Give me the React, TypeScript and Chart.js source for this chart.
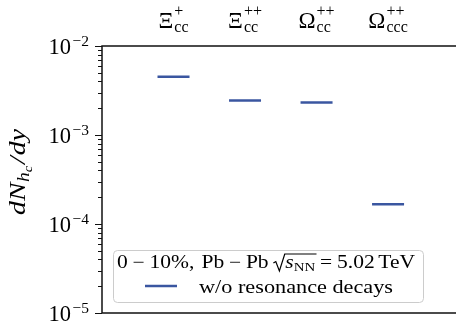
import { useEffect, useRef } from "react";
import { Chart, registerables } from "chart.js";

Chart.register(...registerables);

// ---- data ----
const categoryBase = ["Ξ", "Ξ", "Ω", "Ω"];
const categorySup = ["+", "++", "++", "++"];
const categorySub = ["cc", "cc", "cc", "ccc"];
const yieldValues = [4.5e-3, 2.44e-3, 2.32e-3, 1.67e-4];
const yTickExponents = [-5, -4, -3, -2];
const seriesLabel = "w/o resonance decays";

const BLUE = "#3a56a0";
const SERIF = '"Liberation Serif", "DejaVu Serif", serif';

type Run = { t?: string; size?: number; dy?: number; it?: boolean; gap?: number; sqrt?: Run[] };

function fnt(size: number, it?: boolean) {
  return `${it ? "italic " : ""}${size}px ${SERIF}`;
}
const RAD_W = 11;
function runsWidth(ctx: CanvasRenderingContext2D, runs: Run[]): number {
  let w = 0;
  for (const r of runs) {
    if (r.sqrt) {
      w += RAD_W + runsWidth(ctx, r.sqrt) + (r.gap || 0);
    } else {
      ctx.font = fnt(r.size || 20, r.it);
      w += ctx.measureText(r.t || "").width + (r.gap || 0);
    }
  }
  return w;
}
function drawRuns(ctx: CanvasRenderingContext2D, runs: Run[], x: number, y: number) {
  let cx = x;
  for (const r of runs) {
    if (r.sqrt) {
      const iw = runsWidth(ctx, r.sqrt);
      ctx.save();
      ctx.strokeStyle = "#000";
      ctx.lineWidth = 1;
      ctx.beginPath();
      ctx.moveTo(cx + 1, y - 5);
      ctx.lineTo(cx + 3, y - 6.5);
      ctx.lineTo(cx + 6, y + 3);
      ctx.lineTo(cx + 10.5, y - 14);
      ctx.lineTo(cx + RAD_W + iw + 1, y - 14);
      ctx.stroke();
      ctx.restore();
      drawRuns(ctx, r.sqrt, cx + RAD_W, y);
      cx += RAD_W + iw + (r.gap || 0);
    } else {
      ctx.font = fnt(r.size || 20, r.it);
      ctx.fillText(r.t || "", cx, y + (r.dy || 0));
      cx += ctx.measureText(r.t || "").width + (r.gap || 0);
    }
  }
  return cx - x;
}

const decorPlugin = {
  id: "decor",
  afterDraw(chart: any) {
    const ctx: CanvasRenderingContext2D = chart.ctx;
    const a = chart.chartArea;
    const xs = chart.scales.x;
    const ys = chart.scales.y;
    ctx.save();
    ctx.fillStyle = "#000";
    ctx.textBaseline = "alphabetic";
    ctx.textAlign = "left";

    // spines
    ctx.strokeStyle = "#111";
    ctx.lineWidth = 1.5;
    ctx.beginPath();
    ctx.moveTo(a.left, a.top);
    ctx.lineTo(a.right, a.top);
    ctx.moveTo(a.left, a.bottom);
    ctx.lineTo(a.right, a.bottom);
    ctx.moveTo(a.left, a.top - 0.75);
    ctx.lineTo(a.left, a.bottom + 0.75);
    ctx.stroke();

    // y ticks
    ctx.lineWidth = 1;
    ctx.strokeStyle = "#111";
    for (const e of yTickExponents) {
      const py = Math.round(ys.getPixelForValue(Math.pow(10, e))) + 0.5;
      ctx.beginPath();
      ctx.moveTo(a.left, py);
      ctx.lineTo(a.left - 7, py);
      ctx.stroke();
      if (e < yTickExponents[yTickExponents.length - 1]) {
        for (let m = 2; m <= 9; m++) {
          const my = Math.round(ys.getPixelForValue(m * Math.pow(10, e))) + 0.5;
          ctx.beginPath();
          ctx.moveTo(a.left, my);
          ctx.lineTo(a.left - 4, my);
          ctx.stroke();
        }
      }
      // label 10^e
      const runs: Run[] = [
        { t: "10", size: 22.5, gap: 1.5 },
        { t: "\u2212" + Math.abs(e), size: 15.5, dy: -8 },
      ];
      const w = runsWidth(ctx, runs);
      drawRuns(ctx, runs, 89 - w, ys.getPixelForValue(Math.pow(10, e)) + 8);
    }

    // category labels on top
    for (let i = 0; i < categoryBase.length; i++) {
      const cx = xs.getPixelForValue(i);
      ctx.font = fnt(23);
      const bw = ctx.measureText(categoryBase[i]).width;
      ctx.font = fnt(16);
      const supW = ctx.measureText(categorySup[i]).width;
      const subW = ctx.measureText(categorySub[i]).width;
      const w = bw + 1 + Math.max(supW, subW);
      const x0 = cx - w / 2;
      ctx.font = fnt(23);
      ctx.fillText(categoryBase[i], x0, 28);
      ctx.font = fnt(16);
      ctx.fillText(categorySup[i], x0 + bw + 1, 16);
      ctx.fillText(categorySub[i], x0 + bw + 1, 32);
    }

    // y title
    ctx.save();
    ctx.translate(25, 172);
    ctx.rotate(-Math.PI / 2);
    const title: Run[] = [
      { t: "d", size: 23, it: true },
      { t: "N", size: 23, it: true, gap: 0.5 },
      { t: "h", size: 16, it: true, dy: 4 },
      { t: "c", size: 12, it: true, dy: 7, gap: 1.5 },
      { t: "/", size: 23, it: true, gap: 1 },
      { t: "d", size: 23, it: true },
      { t: "y", size: 23, it: true },
    ];
    const tw = runsWidth(ctx, title);
    ctx.save();
    ctx.scale(86 / tw, 1);
    drawRuns(ctx, title, -tw / 2, 0);
    ctx.restore();
    ctx.restore();

    // legend
    const lx = 113.5, ly = 250.5, lw = 310, lh = 52;
    ctx.beginPath();
    (ctx as any).roundRect(lx, ly, lw, lh, 4);
    ctx.fillStyle = "rgba(255,255,255,0.85)";
    ctx.fill();
    ctx.strokeStyle = "#cccccc";
    ctx.lineWidth = 1;
    ctx.stroke();
    ctx.fillStyle = "#000";

    const line1: Run[] = [
      { t: "0", size: 18, gap: 4 },
      { t: "\u2212", size: 18, gap: 4 },
      { t: "10%,", size: 18, gap: 6 },
      { t: "Pb", size: 18, gap: 4 },
      { t: "\u2212", size: 18, gap: 4 },
      { t: "Pb", size: 18, gap: 3 },
      { sqrt: [
          { t: "s", size: 18, it: true },
          { t: "NN", size: 12.5, dy: 3 },
        ], gap: 4 },
      { t: "=", size: 18, gap: 4 },
      { t: "5.02", size: 18, gap: 3 },
      { t: "TeV", size: 18 },
    ];
    const w1 = runsWidth(ctx, line1);
    ctx.save();
    ctx.translate(117, 268);
    ctx.scale(298 / w1, 1);
    drawRuns(ctx, line1, 0, 0);
    ctx.restore();

    // legend sample
    ctx.strokeStyle = BLUE;
    ctx.lineWidth = 2.5;
    ctx.beginPath();
    ctx.moveTo(145, 286);
    ctx.lineTo(177, 286);
    ctx.stroke();

    const line2: Run[] = [{ t: seriesLabel, size: 18 }];
    const w2 = runsWidth(ctx, line2);
    ctx.save();
    ctx.translate(199, 293);
    ctx.scale(194 / w2, 1);
    drawRuns(ctx, line2, 0, 0);
    ctx.restore();

    ctx.restore();
  },
};

export default function App() {
  const ref = useRef<HTMLCanvasElement | null>(null);
  useEffect(() => {
    if (!ref.current) return;
    const chart = new Chart(ref.current, {
      type: "scatter",
      data: {
        datasets: [
          {
            label: seriesLabel,
            data: yieldValues.map((v, i) => ({ x: i, y: v })),
            pointStyle: "line",
            pointRadius: 16,
            pointHoverRadius: 16,
            borderColor: BLUE,
            backgroundColor: BLUE,
            borderWidth: 2.5,
          } as any,
        ],
      },
      options: {
        responsive: false,
        animation: false,
        devicePixelRatio: 1,
        layout: { autoPadding: false, padding: { left: 0, right: 0, top: 0, bottom: 9 } },
        plugins: { legend: { display: false }, tooltip: { enabled: false } },
        events: [],
        scales: {
          x: {
            type: "linear",
            position: "top",
            min: -1,
            max: 3.95,
            ticks: { display: false },
            grid: { display: false },
            border: { display: false },
            afterFit: (s: any) => {
              s.height = 46;
            },
          },
          y: {
            type: "logarithmic",
            min: 1e-5,
            max: 1e-2,
            ticks: { display: false },
            grid: { display: false },
            border: { display: false },
            afterFit: (s: any) => {
              s.width = 102;
            },
          },
        },
      } as any,
      plugins: [decorPlugin],
    });
    return () => chart.destroy();
  }, []);
  return (
    <div style={{ position: "absolute", left: 0, top: 0, width: 456, height: 322, background: "#fff" }}>
      <canvas ref={ref} width={456} height={322} style={{ display: "block" }} />
    </div>
  );
}
